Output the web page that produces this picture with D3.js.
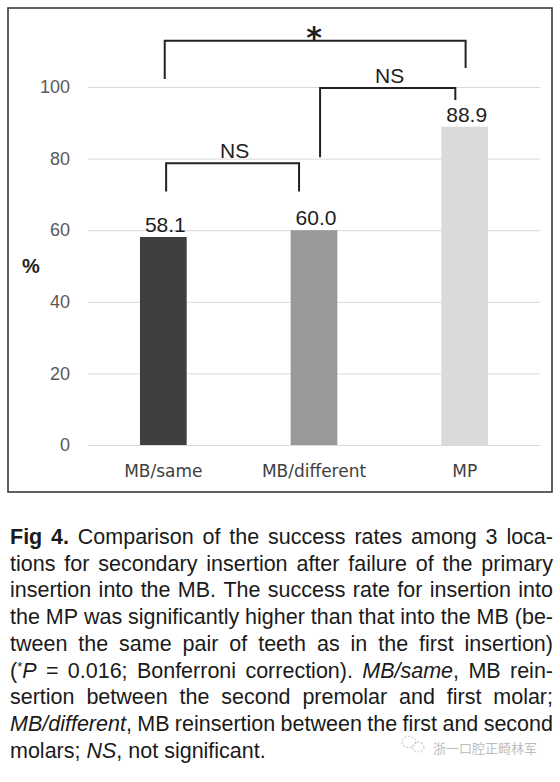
<!DOCTYPE html>
<html>
<head>
<meta charset="utf-8">
<script src="https://cdn.jsdelivr.net/npm/d3@7"></script>
<style>
  html, body { margin: 0; padding: 0; background: #fff; }
  svg { display: block; }
</style>
</head>
<body>
<svg id="chart" width="560" height="782"></svg>
<script>
// ---------- data ----------
const categories = ["MB/same", "MB/different", "MP"];
const successRates = [58.1, 60.0, 88.9];
const valueLabels = ["58.1", "60.0", "88.9"];
const barColors = ["#3f3f3f", "#999999", "#dadada"];
const yTicks = [0, 20, 40, 60, 80, 100];
const yAxisTitle = "%";
// significance brackets (levels in % units)
const bracketPairs = [["MB/same", "MB/different"], ["MB/different", "MP"], ["MB/same", "MP"]];
const bracketLabels = ["NS", "NS", "*"];
const bracketTops = [78.7, 99.7, 112.9];
const bracketLeftEnds = [70.8, 80.4, 102.2];
const bracketRightEnds = [70.8, 96.4, 105.3];
const captionLines = [
  "**Fig 4.** Comparison of the success rates among 3 loca-",
  "tions for secondary insertion after failure of the primary",
  "insertion into the MB. The success rate for insertion into",
  "the MP was significantly higher than that into the MB (be-",
  "tween the same pair of teeth as in the first insertion)",
  "(^*^_P_ = 0.016; Bonferroni correction). _MB/same_, MB rein-",
  "sertion between the second premolar and first molar;",
  "_MB/different_, MB reinsertion between the first and second",
  "molars; _NS_, not significant."
];
const watermark = "浙一口腔正畸林军";

// ---------- layout ----------
const svg = d3.select("#chart");
svg.append("rect").attr("width", 560).attr("height", 782).attr("fill", "#fff");

const plotL = 88, plotR = 540, plotTop = 87, plotBottom = 445;
const x = d3.scaleBand().domain(categories).range([plotL, plotR])
  .paddingInner(0.69).paddingOuter(0.345);
const y = d3.scaleLinear().domain([0, 100]).range([plotBottom, plotTop]);

// frame
svg.append("rect").attr("x", 8).attr("y", 8).attr("width", 544).attr("height", 484)
  .attr("fill", "none").attr("stroke", "#3a3a3a").attr("stroke-width", 1.6);

// y axis + gridlines
const yAxis = svg.append("g").attr("transform", `translate(${plotL},0)`)
  .call(d3.axisLeft(y).tickValues(yTicks).tickSize(-(plotR - plotL)).tickPadding(18));
yAxis.select(".domain").remove();
yAxis.selectAll(".tick line").attr("stroke", "#d9d9d9").attr("stroke-width", 1);
yAxis.selectAll(".tick text").attr("fill", "#595959")
  .style("font-family", "'Liberation Sans', Arial, sans-serif").style("font-size", "18px");

// x axis
const xAxis = svg.append("g").attr("transform", `translate(0,${plotBottom})`)
  .call(d3.axisBottom(x).tickSize(0).tickPadding(20));
xAxis.select(".domain").remove();
xAxis.selectAll(".tick text").attr("fill", "#404040")
  .style("font-family", "'DejaVu Sans', sans-serif").style("font-size", "17px");

// y title
svg.append("text").attr("x", 31).attr("y", 273).attr("text-anchor", "middle")
  .attr("fill", "#222").style("font-family", "'Liberation Sans', Arial, sans-serif")
  .style("font-size", "20px").style("font-weight", "bold").text(yAxisTitle);

// bars
const bars = categories.map((c, i) => ({ c, v: successRates[i], lab: valueLabels[i], col: barColors[i] }));
svg.append("g").selectAll("rect").data(bars).join("rect")
  .attr("x", d => x(d.c)).attr("width", x.bandwidth())
  .attr("y", d => y(d.v)).attr("height", d => y(0) - y(d.v))
  .attr("fill", d => d.col);

// value labels
svg.append("g").selectAll("text").data(bars).join("text")
  .attr("x", d => x(d.c) + x.bandwidth() / 2 + 2)
  .attr("y", d => y(d.v) - 5)
  .attr("text-anchor", "middle").attr("fill", "#1e1e1e")
  .style("font-family", "'Liberation Sans Narrow', 'Liberation Sans', Arial, sans-serif")
  .style("font-size", "21px").text(d => d.lab);

// brackets
const bw = x.bandwidth();
const bracketXOffsets = [[0.56, 0.18], [0.63, 0.3], [0.53, 0.52]]; // fraction across bar
const brackets = bracketPairs.map((p, i) => ({
  x1: x(p[0]) + bw * bracketXOffsets[i][0],
  x2: x(p[1]) + bw * bracketXOffsets[i][1],
  top: bracketTops[i], le: bracketLeftEnds[i], re: bracketRightEnds[i], label: bracketLabels[i]
}));
const bg = svg.append("g");
bg.selectAll("path").data(brackets).join("path")
  .attr("d", d => `M${d.x1},${y(d.le)}V${y(d.top)}H${d.x2}V${y(d.re)}`)
  .attr("fill", "none").attr("stroke", "#222").attr("stroke-width", 2);
bg.selectAll("text").data(brackets).join("text")
  .attr("x", d => d.label === "*" ? (d.x1 + d.x2) / 2 - 1 : (d.x1 + d.x2) / 2 + 2)
  .attr("y", d => d.label === "*" ? y(d.top) + 7 : y(d.top) - 5)
  .attr("text-anchor", "middle").attr("fill", "#1e1e1e")
  .style("font-family", d => d.label === "*" ? "'DejaVu Sans', sans-serif" : "'Liberation Sans Narrow', 'Liberation Sans', Arial, sans-serif")
  .style("font-size", d => d.label === "*" ? "30px" : "21px")
  .style("font-weight", d => d.label === "*" ? "bold" : "normal")
  .text(d => d.label);

// ---------- caption (justified) ----------
const capL = 10, capR = 553, capBase0 = 544, capLead = 26.7, capSize = 21.5;
function parseLine(str) {
  let bold = false, ital = false, sup = false;
  return str.split(" ").map(w => {
    const segs = [];
    let cur = "";
    const push = () => { if (cur) segs.push({ t: cur, b: bold, i: ital, s: sup }); cur = ""; };
    for (let k = 0; k < w.length; k++) {
      if (w.startsWith("**", k)) { push(); bold = !bold; k++; }
      else if (w[k] === "_") { push(); ital = !ital; }
      else if (w[k] === "^") { push(); sup = !sup; }
      else cur += w[k];
    }
    push();
    return segs;
  });
}
const capG = svg.append("g").style("font-family", "'Liberation Sans', Arial, Helvetica, sans-serif")
  .attr("fill", "#1a1a1a");
captionLines.forEach((line, li) => {
  const words = parseLine(line);
  const baseY = capBase0 + li * capLead;
  const nodes = words.map(segs => {
    const t = capG.append("text").attr("y", baseY).style("font-size", capSize + "px");
    let wasSup = false;
    segs.forEach(s => {
      const ts = t.append("tspan").text(s.t);
      if (s.b) ts.style("font-weight", "bold");
      if (s.i) ts.style("font-style", "italic");
      if (s.s) { ts.style("font-size", "13px").attr("dy", -7); wasSup = true; }
      else if (wasSup) { ts.attr("dy", 7); wasSup = false; }
    });
    return t;
  });
  let widths = nodes.map(n => n.node().getComputedTextLength());
  const last = li === captionLines.length - 1;
  const avail = capR - capL;
  const minGap = 3;
  let total = d3.sum(widths);
  // compress slightly if a line would not fit with a minimal gap
  if (!last && total + minGap * (nodes.length - 1) > avail) {
    const k = (avail - minGap * (nodes.length - 1)) / total;
    nodes.forEach((n, i) => {
      n.attr("textLength", widths[i] * k).attr("lengthAdjust", "spacingAndGlyphs");
      widths[i] *= k;
    });
    total = d3.sum(widths);
  }
  const spaceW = capSize * 0.278;
  const gap = last || nodes.length < 2 ? spaceW : (avail - total) / (nodes.length - 1);
  let cx = capL;
  nodes.forEach((n, k) => { n.attr("x", cx); cx += widths[k] + gap; });
});

// watermark
const wm = svg.append("g").attr("fill", "none").attr("stroke", "#cfcfcf").attr("stroke-width", 1.2)
  .attr("stroke-dasharray", "2,1.5");
wm.append("ellipse").attr("cx", 409).attr("cy", 742).attr("rx", 7).attr("ry", 5.5);
wm.append("ellipse").attr("cx", 418).attr("cy", 747).attr("rx", 6).attr("ry", 4.8);
svg.append("text").attr("x", 433).attr("y", 753).attr("fill", "#bdbdbd")
  .style("font-family", "'Noto Sans CJK SC', sans-serif").style("font-size", "13px")
  .text(watermark);
</script>
</body>
</html>
